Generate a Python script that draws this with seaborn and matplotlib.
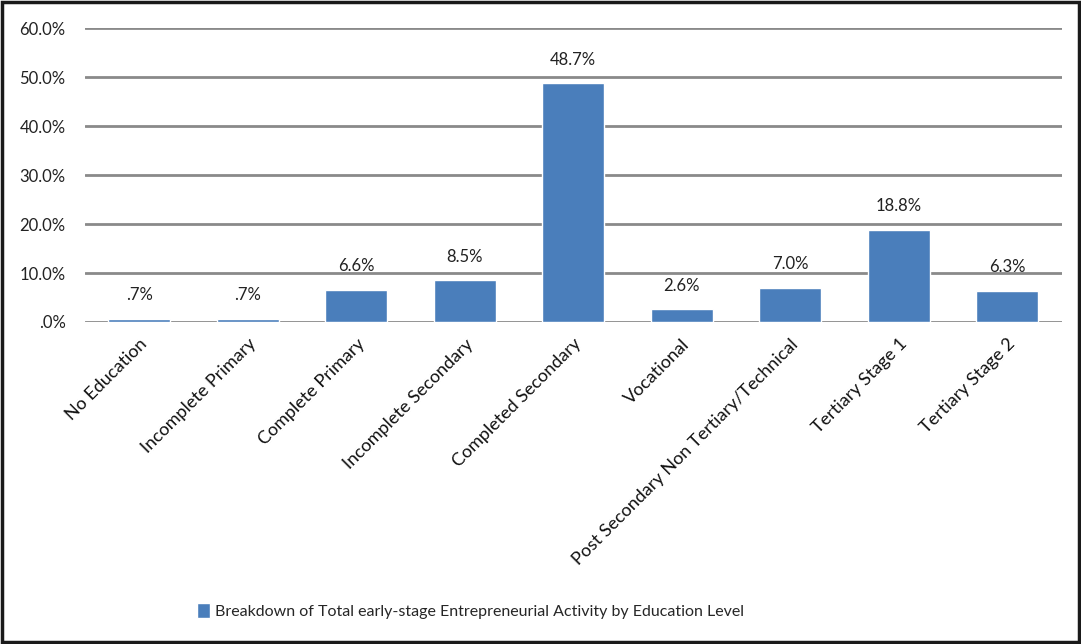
import matplotlib
matplotlib.use("Agg")
import matplotlib.pyplot as plt
import seaborn as sns
import pandas as pd
from matplotlib.patches import Rectangle

categories = ["No Education", "Incomplete Primary", "Complete Primary", "Incomplete Secondary",
              "Completed Secondary", "Vocational", "Post Secondary Non Tertiary/Technical",
              "Tertiary Stage 1", "Tertiary Stage 2"]
values = [0.7, 0.7, 6.6, 8.5, 48.7, 2.6, 7.0, 18.8, 6.3]
value_labels = [".7%", ".7%", "6.6%", "8.5%", "48.7%", "2.6%", "7.0%", "18.8%", "6.3%"]
y_ticks = [0, 10, 20, 30, 40, 50, 60]
y_tick_labels = [".0%", "10.0%", "20.0%", "30.0%", "40.0%", "50.0%", "60.0%"]
series_name = "Breakdown of Total early-stage Entrepreneurial Activity by Education Level"

sns.set_style("white")
plt.rcParams['font.family'] = ['Lato', 'DejaVu Sans']

df = pd.DataFrame({"cat": categories, "val": values, "series": series_name})

fig = plt.figure(figsize=(10.81, 6.44), dpi=100)
ax = fig.add_axes([0.0786, 0.5, 0.9034, 0.4565])
color = "#4a7ebb"
sns.barplot(data=df, x="cat", y="val", hue="series", palette=[color], width=0.57,
            ax=ax, saturation=1, legend=True)

ax.set_ylim(0, 60)
ax.set_xlim(-0.5, len(categories) - 0.5)
ax.set_yticks(y_ticks)
ax.set_yticklabels(y_tick_labels, fontsize=12, color="#222222")
ax.set_xticks(range(len(categories)))
ax.set_xticklabels(categories, rotation=45, ha="right", rotation_mode="anchor",
                   fontsize=13, color="#111111")
ax.tick_params(axis="x", length=0, pad=10)
ax.tick_params(axis="y", length=0, pad=14)
ax.set_xlabel("")
ax.set_ylabel("")
for s in ax.spines.values():
    s.set_visible(False)
ax.yaxis.grid(True, color="#8a8a8a", linewidth=2)
ax.set_axisbelow(True)

for i, (v, lab) in enumerate(zip(values, value_labels)):
    ax.text(i, v + 3.2, lab, ha="center", va="bottom", fontsize=12, color="#222222")

leg = ax.legend(loc="center", bbox_to_anchor=(0.435, 0.051), bbox_transform=fig.transFigure,
                frameon=False, fontsize=11.5, handlelength=0.8, handleheight=1.1,
                handletextpad=0.3)

fig.patches.append(Rectangle((0.002, 0.003), 0.996, 0.994, transform=fig.transFigure,
                             fill=False, edgecolor="#1a1a1a", linewidth=2.5))

fig.savefig("out.png", dpi=100)
